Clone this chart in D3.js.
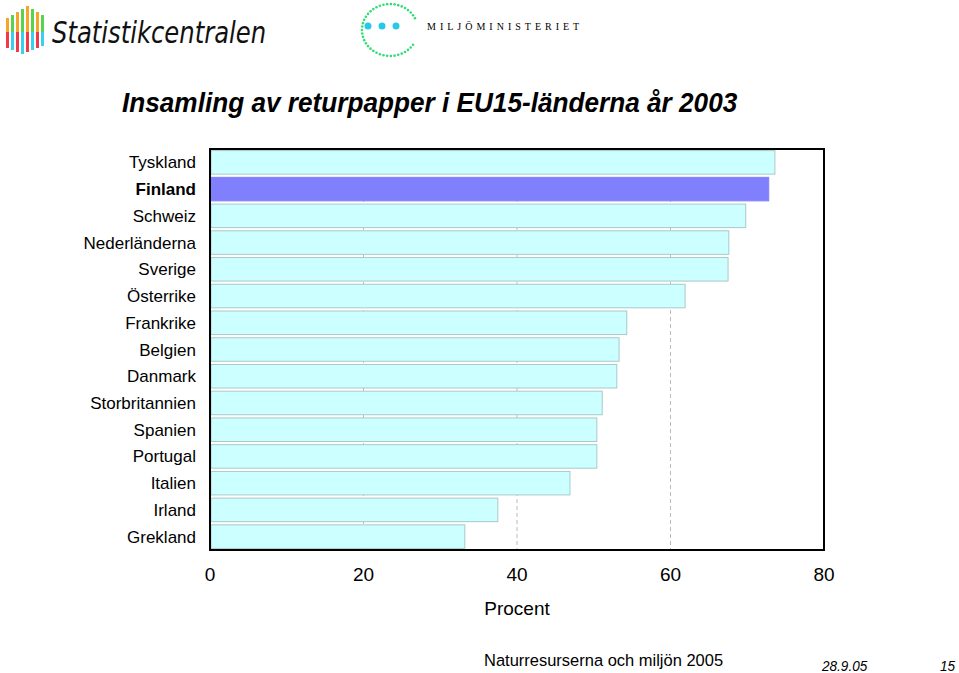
<!DOCTYPE html>
<html><head><meta charset="utf-8">
<script src="https://cdn.jsdelivr.net/npm/d3@7.9.0/dist/d3.min.js"></script>
<style>body{margin:0;background:#fff;font-family:Arial,"Liberation Sans",sans-serif}</style>
</head><body><svg id="c" width="959" height="673"></svg>
<script>
const countries = ["Tyskland","Finland","Schweiz","Nederländerna","Sverige","Österrike","Frankrike","Belgien","Danmark","Storbritannien","Spanien","Portugal","Italien","Irland","Grekland"];
const values = [73.6,72.8,69.8,67.6,67.5,61.9,54.3,53.3,53.0,51.1,50.4,50.4,46.9,37.5,33.2];
const ticks = [0,20,40,60,80];

const svg = d3.select("#c");
const x = d3.scaleLinear().domain([0,80]).range([210,824]);
const y = d3.scaleBand().domain(countries).range([149,550]).paddingInner(0.12).paddingOuter(0.06);

// narrow text: squeeze horizontally
function ntext(px, py, s, size, opts={}) {
  const sx = opts.sx || 0.97;
  const t = svg.append("g").attr("transform",`translate(${px},${py}) scale(${sx},1)`)
    .append("text").attr("font-size",size).attr("font-family","'Liberation Sans',Arial,sans-serif")
    .attr("text-anchor",opts.anchor||"start").text(s);
  if (opts.bold) t.attr("font-weight","bold");
  if (opts.italic) t.attr("font-style","italic");
  return t;
}

// logos (simplified)
const logoCols = ["#f4a52a","#5bd150","#f03a4a","#37d0ee"];
for (let i=0;i<8;i++){
  svg.append("rect").attr("x",6+i*5).attr("y",6+Math.abs(4-i)*3).attr("width",3).attr("height",26-Math.abs(4-i)*2).attr("fill",logoCols[i%2]);
  svg.append("rect").attr("x",6+i*5).attr("y",32).attr("width",3).attr("height",22-Math.abs(3-i)*2).attr("fill",logoCols[2+(i%2)]);
}
svg.append("g").attr("transform","translate(52,43) scale(0.9,1)").append("text").attr("font-size",30).attr("font-style","italic").attr("fill","#111")
  .attr("font-family","'DejaVu Sans Condensed',sans-serif").text("Statistikcentralen");
for (let a=0;a<40;a++){
  const t = -Math.PI*0.35 + a/40*Math.PI*1.7;
  svg.append("circle").attr("cx",390+28*Math.cos(t+Math.PI/2)).attr("cy",30+26*Math.sin(t+Math.PI/2)*-1).attr("r",1.3).attr("fill","#33dd77");
}
[348,362,376].forEach(cx=>svg.append("circle").attr("cx",cx+20).attr("cy",26).attr("r",3.5).attr("fill","#2ac8e8"));
svg.append("text").attr("x",427).attr("y",30).attr("font-size",10).attr("letter-spacing",4).attr("font-family","'Liberation Serif',serif").text("MILJÖMINISTERIET");

ntext(122,112,"Insamling av returpapper i EU15-länderna år 2003",27,{bold:true,italic:true});

// grid
ticks.slice(1,4).forEach(t=>svg.append("line").attr("x1",x(t)).attr("x2",x(t)).attr("y1",149).attr("y2",550)
  .attr("stroke","#bbb").attr("stroke-dasharray","4,3"));

svg.selectAll(".bar").data(countries).join("rect")
  .attr("x",x(0)+1).attr("y",d=>y(d)).attr("height",y.bandwidth())
  .attr("width",(d,i)=>x(values[i])-x(0)-1)
  .attr("fill",d=>d==="Finland"?"#8080ff":"#ccffff")
  .attr("stroke",d=>d==="Finland"?"#8080ff":"#a9c9c9").attr("stroke-width",1);

svg.append("rect").attr("x",210).attr("y",149).attr("width",614).attr("height",401).attr("fill","none").attr("stroke","#000").attr("stroke-width",2);

countries.forEach(d=>ntext(196,y(d)+y.bandwidth()/2+6,d,17,{anchor:"end",bold:d==="Finland",sx:1}));

ticks.forEach(d=>ntext(x(d),581,d,19,{anchor:"middle",sx:1}));
ntext(517,615,"Procent",19,{anchor:"middle",sx:1});
ntext(484,666,"Naturresurserna och miljön 2005",17);
ntext(822,671,"28.9.05",14,{italic:true});
ntext(940,671,"15",14,{italic:true});
</script></body></html>
